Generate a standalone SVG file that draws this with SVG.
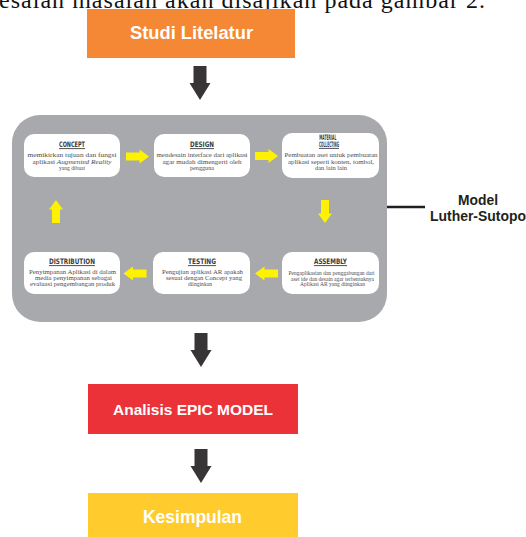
<svg xmlns="http://www.w3.org/2000/svg" width="526" height="537" viewBox="0 0 526 537">
  <style>
    .box-label{font-family:"Liberation Sans",Arial,sans-serif;font-weight:bold;fill:#ffffff;text-anchor:middle}
    .panel{fill:#a7a9ac}
    .card{fill:#ffffff}
    .title{font-family:"DejaVu Sans Condensed","DejaVu Sans",sans-serif;font-weight:bold;font-size:7.5px;fill:#3b3b3d;text-anchor:middle}
    .ul{stroke:#3b3b3d;stroke-width:0.9}
    .body{font-family:"Liberation Serif","Times New Roman",serif;font-size:7px;fill:#4d4d4f;text-anchor:middle}
    .mid{font-size:6.2px}
    .small{font-size:5.4px}
    .yarrow{fill:#fff200}
    .darrow{fill:#373536}
    .note{font-family:"Liberation Sans",Arial,sans-serif;font-weight:bold;font-size:14px;fill:#231f20;text-anchor:middle}
    .lead{font-family:"Liberation Serif","Times New Roman",serif;font-size:24px;fill:#111111}
  </style>
  <defs>
    <!-- yellow block arrow, pointing right, centred on its origin -->
    <path id="yArrow" d="M-11.5,-4 H2 V-7 L11.5,0 L2,7 V4 H-11.5 Z"/>
    <!-- dark block arrow, pointing down, top centre at origin -->
    <path id="dArrow" d="M-6.5,0 H6.5 V17 H10.5 L0,34 L-10.5,17 H-6.5 Z"/>
  </defs>

  <rect width="526" height="537" fill="#ffffff"/>

  <!-- running text above the figure -->
  <text class="lead" x="-1" y="8" textLength="486" lengthAdjust="spacing">esaian masalah akan disajikan pada gambar 2.</text>

  <!-- Studi Litelatur -->
  <g id="studi">
    <rect x="87" y="9" width="208" height="49" fill="#f58835"/>
    <text class="box-label" x="191.5" y="38.5" font-size="18" textLength="123" lengthAdjust="spacingAndGlyphs">Studi Litelatur</text>
  </g>

  <!-- Luther-Sutopo model panel -->
  <g id="luther-sutopo">
    <rect class="panel" x="12" y="115" width="375" height="207" rx="28"/>

    <g id="concept">
      <rect class="card" x="24" y="134" width="96" height="43" rx="10"/>
      <text class="title" x="72" y="147" textLength="26" lengthAdjust="spacingAndGlyphs">CONCEPT</text>
      <line class="ul" x1="59" y1="148.6" x2="85" y2="148.6"/>
      <text class="body" x="72" y="157" textLength="89" lengthAdjust="spacingAndGlyphs">memikirkan tujuan dan fungsi</text>
      <text class="body" x="72" y="163.5" textLength="79" lengthAdjust="spacingAndGlyphs">aplikasi <tspan font-style="italic">Augmented Reality</tspan></text>
      <text class="body" x="72" y="170" textLength="26" lengthAdjust="spacingAndGlyphs">yang dibuat</text>
    </g>

    <g id="design">
      <rect class="card" x="154" y="134" width="96" height="43" rx="10"/>
      <text class="title" x="202" y="147" textLength="24" lengthAdjust="spacingAndGlyphs">DESIGN</text>
      <line class="ul" x1="190" y1="148.6" x2="214" y2="148.6"/>
      <text class="body" x="202" y="157" textLength="91" lengthAdjust="spacingAndGlyphs">mendesain interface dari aplikasi</text>
      <text class="body" x="202" y="163.5" textLength="79" lengthAdjust="spacingAndGlyphs">agar mudah dimengerti oleh</text>
      <text class="body" x="202" y="170" textLength="24" lengthAdjust="spacingAndGlyphs">pengguna</text>
    </g>

    <g id="material-collecting">
      <rect class="card" x="282" y="133" width="97" height="45" rx="10"/>
      <!-- two-line title set as one text block -->
      <text class="title" font-size="4.5">
        <tspan x="329" y="140" textLength="17" lengthAdjust="spacingAndGlyphs">MATERIAL</tspan>
        <tspan x="329" y="147" textLength="20" lengthAdjust="spacingAndGlyphs">COLLECTING</tspan>
      </text>
      <line class="ul" x1="319" y1="148.4" x2="339" y2="148.4"/>
      <text class="body" x="331" y="157" textLength="93" lengthAdjust="spacingAndGlyphs">Pembuatan aset untuk pembuatan</text>
      <text class="body" x="331" y="163.5" textLength="86" lengthAdjust="spacingAndGlyphs">aplikasi seperti konten, tombol,</text>
      <text class="body" x="331" y="170" textLength="32" lengthAdjust="spacingAndGlyphs">dan lain lain</text>
    </g>

    <g id="assembly">
      <rect class="card" x="282" y="252" width="97" height="42" rx="10"/>
      <text class="title" x="330.5" y="264" textLength="33" lengthAdjust="spacingAndGlyphs">ASSEMBLY</text>
      <line class="ul" x1="314" y1="265.6" x2="347" y2="265.6"/>
      <text class="body small" x="331.5" y="275" textLength="86" lengthAdjust="spacingAndGlyphs">Pengaplikasian dan penggabungan dari</text>
      <text class="body small" x="332.5" y="280.5" textLength="83" lengthAdjust="spacingAndGlyphs">aset ide dan desain agar terbentuknya</text>
      <text class="body small" x="332.5" y="286" textLength="65" lengthAdjust="spacingAndGlyphs">Aplikasi AR yang diinginkan</text>
    </g>

    <g id="testing">
      <rect class="card" x="153" y="252" width="97" height="42" rx="10"/>
      <text class="title" x="202" y="264" textLength="28" lengthAdjust="spacingAndGlyphs">TESTING</text>
      <line class="ul" x1="188" y1="265.6" x2="216" y2="265.6"/>
      <text class="body mid" x="202.5" y="274" textLength="81" lengthAdjust="spacingAndGlyphs">Pengujian aplikasi AR apakah</text>
      <text class="body mid" x="204" y="280" textLength="76" lengthAdjust="spacingAndGlyphs">sesuai dengan Concept yang</text>
      <text class="body mid" x="200" y="286" textLength="24" lengthAdjust="spacingAndGlyphs">diinginkan</text>
    </g>

    <g id="distribution">
      <rect class="card" x="24" y="252" width="96" height="42" rx="10"/>
      <text class="title" x="72" y="264" textLength="46" lengthAdjust="spacingAndGlyphs">DISTRIBUTION</text>
      <line class="ul" x1="49" y1="265.6" x2="95" y2="265.6"/>
      <text class="body mid" x="72.5" y="274" textLength="87" lengthAdjust="spacingAndGlyphs">Penyimpanan Aplikasi di dalam</text>
      <text class="body mid" x="73.5" y="280" textLength="77" lengthAdjust="spacingAndGlyphs">media penyimpanan sebagai</text>
      <text class="body mid" x="72.5" y="286" textLength="85" lengthAdjust="spacingAndGlyphs">evaluasi pengembangan produk</text>
    </g>
  </g>

  <!-- model label -->
  <g id="model-label">
    <text class="note" x="478" y="204.5" textLength="40" lengthAdjust="spacingAndGlyphs">Model</text>
    <text class="note" x="478" y="220.5" textLength="96" lengthAdjust="spacingAndGlyphs">Luther-Sutopo</text>
  </g>

  <!-- Analisis EPIC MODEL -->
  <g id="analisis">
    <rect x="88" y="384" width="210" height="50" fill="#ec3239"/>
    <text class="box-label" x="193" y="415" font-size="15.5" textLength="160" lengthAdjust="spacingAndGlyphs">Analisis EPIC MODEL</text>
  </g>

  <!-- Kesimpulan -->
  <g id="kesimpulan">
    <rect x="88" y="493" width="210" height="44" fill="#ffcb2d"/>
    <text class="box-label" x="192.5" y="523" font-size="17.5" textLength="99" lengthAdjust="spacingAndGlyphs">Kesimpulan</text>
  </g>

  <!-- connectors -->
  <g id="connectors">
    <use href="#dArrow" class="darrow" transform="translate(200,66)"/>
    <use href="#dArrow" class="darrow" transform="translate(201,333)"/>
    <use href="#dArrow" class="darrow" transform="translate(201,449)"/>

    <use href="#yArrow" class="yarrow" transform="translate(137.5,156.5)"/>
    <use href="#yArrow" class="yarrow" transform="translate(266.5,156)"/>
    <use href="#yArrow" class="yarrow" transform="translate(325,211.5) rotate(90)"/>
    <use href="#yArrow" class="yarrow" transform="translate(266.5,273.5) rotate(180)"/>
    <use href="#yArrow" class="yarrow" transform="translate(135,273.5) rotate(180)"/>
    <use href="#yArrow" class="yarrow" transform="translate(56,211.5) rotate(-90)"/>

    <line x1="387" y1="207" x2="425" y2="207" stroke="#231f20" stroke-width="2.5"/>
  </g>
</svg>
